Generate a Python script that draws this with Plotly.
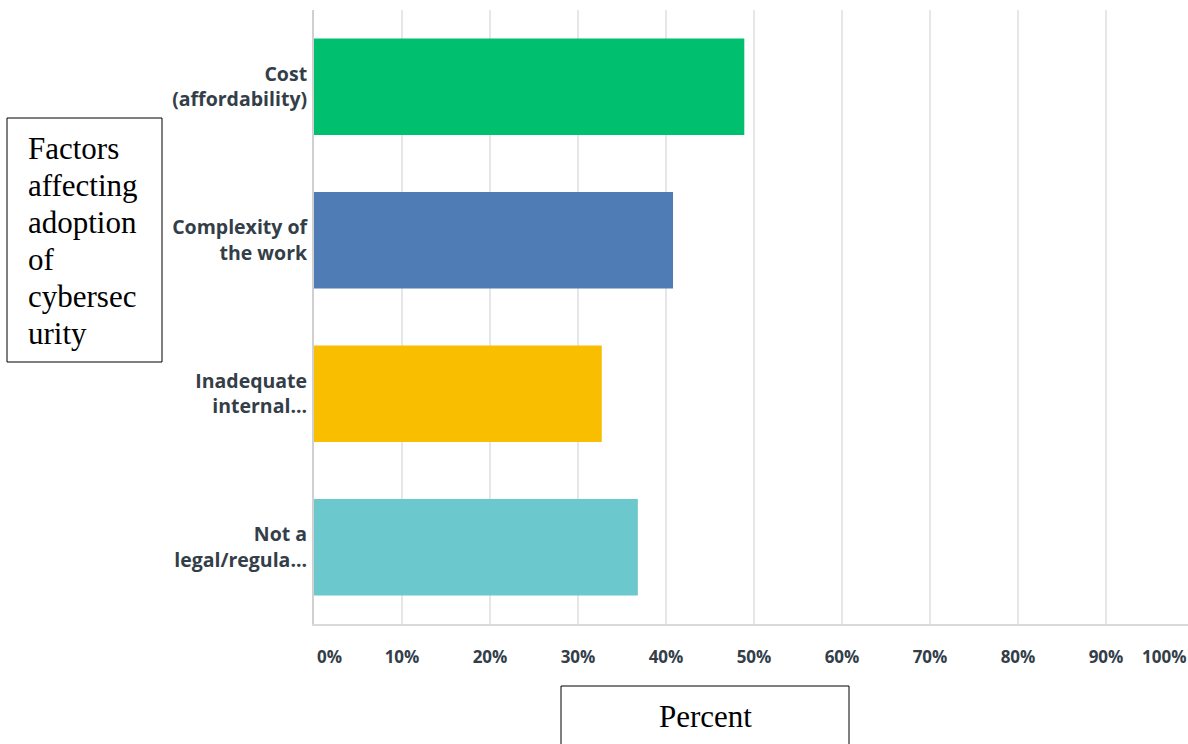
import plotly.graph_objects as go

categories = ["Cost<br>(affordability)", "Complexity of<br>the work", "Inadequate<br>internal...", "Not a<br>legal/regula..."]
values = [48.9, 40.8, 32.7, 36.8]
colors = ["#00BF6F", "#507CB6", "#F9BE00", "#6BC8CD"]
tick_vals = [10, 20, 30, 40, 50, 60, 70, 80, 90]
tick_text = ["10%", "20%", "30%", "40%", "50%", "60%", "70%", "80%", "90%"]
y_box_lines = ["Factors", "affecting", "adoption", "of", "cybersec", "urity"]
x_box_text = "Percent"

W, H = 1188, 744
ML, MR, MT, MB = 314, 0, 10, 120
PW, PH = W - ML - MR, H - MT - MB

def px_x(p):
    return (p - ML) / PW

def px_y(p):
    return (H - MB - p) / PH

TXT = "#333E48"
LABEL_FONT = dict(family="Open Sans", size=19.5, color=TXT, weight=700)
TICK_FONT = dict(family="Open Sans", size=17, color=TXT, weight=700)

fig = go.Figure(go.Bar(
    x=values, y=categories, orientation="h",
    marker=dict(color=colors, line=dict(width=0)),
    width=0.63,
))

fig.update_layout(
    width=W, height=H,
    margin=dict(l=ML, r=MR, t=MT, b=MB),
    paper_bgcolor="white", plot_bgcolor="white",
    showlegend=False,
    bargap=0.37,
)

fig.update_xaxes(
    range=[0, PW / 8.8],
    tickvals=tick_vals, ticktext=tick_text,
    tickfont=TICK_FONT,
    showgrid=True, gridcolor="#E6E6E6", gridwidth=1.5,
    zeroline=False,
    showline=True, linecolor="#DADADA", linewidth=1.5,
    ticks="", ticklabelstandoff=17,
    fixedrange=True,
)
fig.update_yaxes(
    categoryorder="array", categoryarray=categories, autorange="reversed",
    tickfont=LABEL_FONT,
    showgrid=False, zeroline=False,
    showline=True, linecolor="#D0D0D0", linewidth=2,
    ticks="", ticklabelstandoff=1,
)

annotations = [
    dict(x=0, y=px_y(656), xref="x", yref="paper", text="0%", showarrow=False,
         xanchor="left", yanchor="middle", xshift=1, font=TICK_FONT),
    dict(x=1, y=px_y(656), xref="paper", yref="paper", text="100%", showarrow=False,
         xanchor="right", yanchor="middle", xshift=0, font=TICK_FONT),
]

SERIF = dict(family="Liberation Serif, Times New Roman, serif", size=31, color="black")
for i, line in enumerate(y_box_lines):
    annotations.append(dict(
        x=px_x(26), y=px_y(148 + 37 * i), xref="paper", yref="paper",
        text=line, showarrow=False, xanchor="left", yanchor="middle", font=SERIF,
    ))
annotations.append(dict(
    x=px_x(705), y=px_y(716), xref="paper", yref="paper",
    text=x_box_text, showarrow=False, xanchor="center", yanchor="middle", font=SERIF,
))

shapes = [
    dict(type="rect", xref="paper", yref="paper",
         x0=px_x(7), x1=px_x(162), y0=px_y(362), y1=px_y(118),
         line=dict(color="black", width=1), fillcolor="rgba(0,0,0,0)"),
    dict(type="rect", xref="paper", yref="paper",
         x0=px_x(561), x1=px_x(849), y0=px_y(760), y1=px_y(686),
         line=dict(color="black", width=1), fillcolor="rgba(0,0,0,0)"),
]

fig.update_layout(annotations=annotations, shapes=shapes)

fig.write_html(
    "out.html",
    config={"displayModeBar": False},
    post_script="document.body.style.margin='0';document.body.style.overflow='hidden';",
)
